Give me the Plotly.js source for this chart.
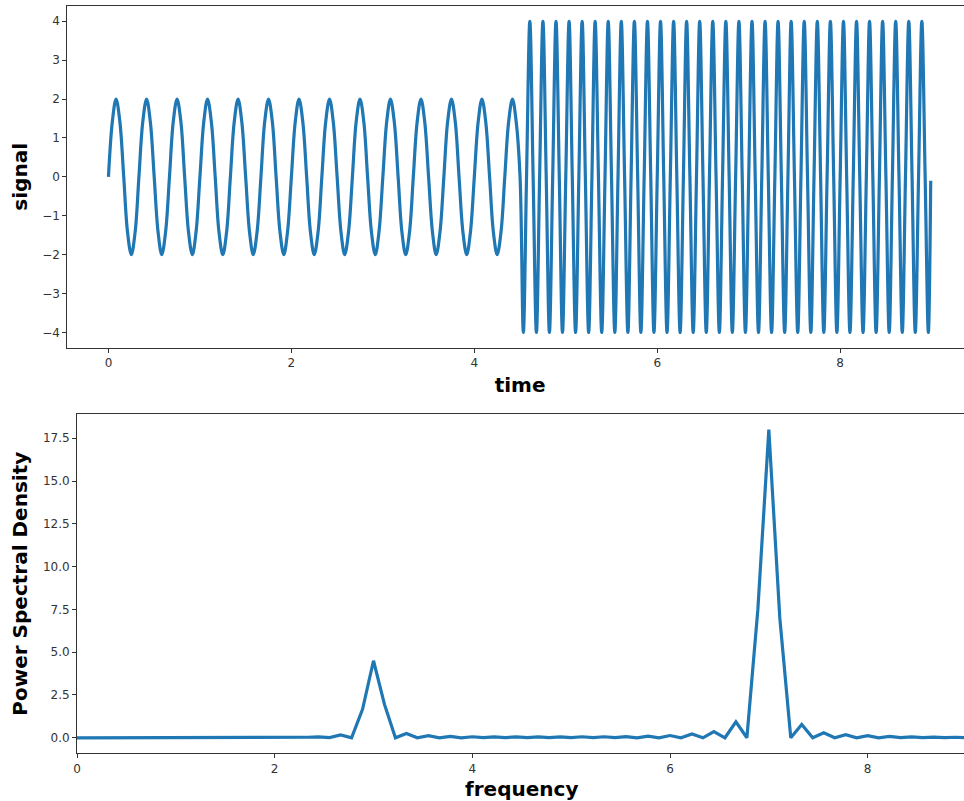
<!DOCTYPE html>
<html>
<head>
<meta charset="utf-8">
<script src="https://cdn.plot.ly/plotly-3.0.1.min.js"></script>
<style>
html, body { margin: 0; padding: 0; background: #fff; overflow: hidden; width: 964px; height: 801px; }
#chart { width: 1000px; height: 801px; }
</style>
</head>
<body>
<div id="chart"></div>
<script>
// ---- Signal, first half (3 Hz, amplitude 2) ----
const timeLow = [
  0,0.042,0.083,0.125,0.167,0.208,0.25,0.292,0.333,0.375,0.417,0.458,0.5,0.542,0.583,0.625,0.667,0.708,0.75,0.792,0.833,0.875,0.917,0.958,
  1,1.042,1.083,1.125,1.167,1.208,1.25,1.292,1.333,1.375,1.417,1.458,1.5,1.542,1.583,1.625,1.667,1.708,1.75,1.792,1.833,1.875,1.917,1.958,
  2,2.042,2.083,2.125,2.167,2.208,2.25,2.292,2.333,2.375,2.417,2.458,2.5,2.542,2.583,2.625,2.667,2.708,2.75,2.792,2.833,2.875,2.917,2.958,
  3,3.042,3.083,3.125,3.167,3.208,3.25,3.292,3.333,3.375,3.417,3.458,3.5,3.542,3.583,3.625,3.667,3.708,3.75,3.792,3.833,3.875,3.917,3.958,
  4,4.042,4.083,4.125,4.167,4.208,4.25,4.292,4.333,4.375,4.417,4.458,4.5
];
const signalLow = [
  0,1.41,2,1.41,0,-1.41,-2,-1.41, 0,1.41,2,1.41,0,-1.41,-2,-1.41, 0,1.41,2,1.41,0,-1.41,-2,-1.41,
  0,1.41,2,1.41,0,-1.41,-2,-1.41, 0,1.41,2,1.41,0,-1.41,-2,-1.41, 0,1.41,2,1.41,0,-1.41,-2,-1.41,
  0,1.41,2,1.41,0,-1.41,-2,-1.41, 0,1.41,2,1.41,0,-1.41,-2,-1.41, 0,1.41,2,1.41,0,-1.41,-2,-1.41,
  0,1.41,2,1.41,0,-1.41,-2,-1.41, 0,1.41,2,1.41,0,-1.41,-2,-1.41, 0,1.41,2,1.41,0,-1.41,-2,-1.41,
  0,1.41,2,1.41,0,-1.41,-2,-1.41, 0,1.41,2,1.41, 0
];

// ---- Signal, second half (7 Hz, amplitude 4) ----
const timeHigh = [
  4.536,4.571,4.607,4.643,4.679,4.714,4.75,4.786,4.821,4.857,4.893,4.929,4.964,
  5,5.036,5.071,5.107,5.143,5.179,5.214,5.25,5.286,5.321,5.357,5.393,5.429,5.464,5.5,
  5.536,5.571,5.607,5.643,5.679,5.714,5.75,5.786,5.821,5.857,5.893,5.929,5.964,
  6,6.036,6.071,6.107,6.143,6.179,6.214,6.25,6.286,6.321,6.357,6.393,6.429,6.464,6.5,
  6.536,6.571,6.607,6.643,6.679,6.714,6.75,6.786,6.821,6.857,6.893,6.929,6.964,
  7,7.036,7.071,7.107,7.143,7.179,7.214,7.25,7.286,7.321,7.357,7.393,7.429,7.464,7.5,
  7.536,7.571,7.607,7.643,7.679,7.714,7.75,7.786,7.821,7.857,7.893,7.929,7.964,
  8,8.036,8.071,8.107,8.143,8.179,8.214,8.25,8.286,8.321,8.357,8.393,8.429,8.464,8.5,
  8.536,8.571,8.607,8.643,8.679,8.714,8.75,8.786,8.821,8.857,8.893,8.929,8.964,
  8.99
];
const signalHigh = [
  -4,0,4,0,-4,0,4,0,-4,0,4,0,-4,0,4,0,-4,0,4,0,-4,0,4,0,-4,0,4,0,
  -4,0,4,0,-4,0,4,0,-4,0,4,0,-4,0,4,0,-4,0,4,0,-4,0,4,0,-4,0,4,0,
  -4,0,4,0,-4,0,4,0,-4,0,4,0,-4,0,4,0,-4,0,4,0,-4,0,4,0,-4,0,4,0,
  -4,0,4,0,-4,0,4,0,-4,0,4,0,-4,0,4,0,-4,0,4,0,-4,0,4,0,-4,0,4,0,
  -4,0,4,0,-4,0,4,0,-4,0,4,0,-4,
  -0.1
];

// ---- Power spectral density ----
const frequency = [
  0,0.111,0.222,0.333,0.444,0.556,0.667,0.778,0.889,1,
  1.111,1.222,1.333,1.444,1.556,1.667,1.778,1.889,2,
  2.111,2.222,2.333,2.444,2.556,2.667,2.778,2.889,3,
  3.111,3.222,3.333,3.444,3.556,3.667,3.778,3.889,4,
  4.111,4.222,4.333,4.444,4.556,4.667,4.778,4.889,5,
  5.111,5.222,5.333,5.444,5.556,5.667,5.778,5.889,6,
  6.111,6.222,6.333,6.444,6.556,6.667,6.778,6.889,7,
  7.111,7.222,7.333,7.444,7.556,7.667,7.778,7.889,8,
  8.111,8.222,8.333,8.444,8.556,8.667,8.778,8.889,9
];
const psd = [
  0,0,0,0,0,0,0,0,0,0,
  0,0,0,0,0,0.01,0,0.01,0,
  0.02,0.01,0.03,0.05,0.01,0.17,0,1.66,4.5,
  1.95,0,0.25,0,0.12,0,0.08,0,0.06,
  0.01,0.05,0.01,0.05,0.01,0.05,0.01,0.05,0.01,
  0.06,0.01,0.06,0.01,0.07,0,0.1,0,0.13,
  0,0.22,0,0.36,0,0.93,0,7.5,18.0,
  7.0,0,0.78,0,0.29,0,0.18,0,0.12,
  0,0.08,0.01,0.05,0.01,0.04,0.01,0.03,0.01
];

const xTicksTop = [0, 2, 4, 6, 8];
const yTicksTop = [-4, -3, -2, -1, 0, 1, 2, 3, 4];
const xTicksBottom = [0, 2, 4, 6, 8];
const yTicksBottom = [0, 2.5, 5, 7.5, 10, 12.5, 15, 17.5];

const lineStyle = { color: '#1f77b4', width: 3.2 };

const traces = [
  {
    x: timeLow.concat(timeHigh),
    y: signalLow.concat(signalHigh),
    type: 'scatter', mode: 'lines',
    line: Object.assign({ shape: 'spline', smoothing: 1 }, lineStyle),
    xaxis: 'x', yaxis: 'y', hoverinfo: 'x+y'
  },
  {
    x: frequency, y: psd,
    type: 'scatter', mode: 'lines',
    line: lineStyle,
    xaxis: 'x2', yaxis: 'y2', hoverinfo: 'x+y'
  }
];

const tickFont = { family: 'DejaVu Sans, sans-serif', size: 12, color: '#333' };
const titleFont = { family: 'DejaVu Sans, sans-serif', size: 20, color: '#000', weight: 'bold' };

const axisCommon = {
  showgrid: false, zeroline: false, showline: true, mirror: true,
  linecolor: '#333', linewidth: 1,
  ticks: 'outside', ticklen: 4, tickwidth: 1, tickcolor: '#333',
  tickfont: tickFont, automargin: false
};

const layout = {
  width: 1000, height: 801,
  margin: { l: 0, r: 0, t: 0, b: 0, pad: 0 },
  paper_bgcolor: '#fff', plot_bgcolor: '#fff',
  showlegend: false,
  xaxis: Object.assign({}, axisCommon, {
    domain: [0.0673, 0.9728], range: [-0.45, 9.45],
    tickmode: 'array', tickvals: xTicksTop, ticktext: xTicksTop.map(String),
    title: { text: 'time', font: titleFont, standoff: 8 },
    anchor: 'y'
  }),
  yaxis: Object.assign({}, axisCommon, {
    domain: [0.5655, 0.9929], range: [-4.4, 4.4],
    tickmode: 'array', tickvals: yTicksTop,
    ticktext: yTicksTop.map(v => v < 0 ? '\u2212' + Math.abs(v) : String(v)),
    title: { text: 'signal', font: titleFont, standoff: 9 },
    anchor: 'x'
  }),
  xaxis2: Object.assign({}, axisCommon, {
    domain: [0.077, 0.9665], range: [0, 9],
    tickmode: 'array', tickvals: xTicksBottom, ticktext: xTicksBottom.map(String),
    title: { text: 'frequency', font: titleFont, standoff: 8 },
    anchor: 'y2'
  }),
  yaxis2: Object.assign({}, axisCommon, {
    domain: [0.0597, 0.4828], range: [-0.9, 18.9],
    tickmode: 'array', tickvals: yTicksBottom, ticktext: yTicksBottom.map(v => v.toFixed(1)),
    title: { text: 'Power Spectral Density', font: titleFont, standoff: 9 },
    anchor: 'x2'
  })
};

Plotly.newPlot('chart', traces, layout, { displayModeBar: false, staticPlot: true });
</script>
</body>
</html>
